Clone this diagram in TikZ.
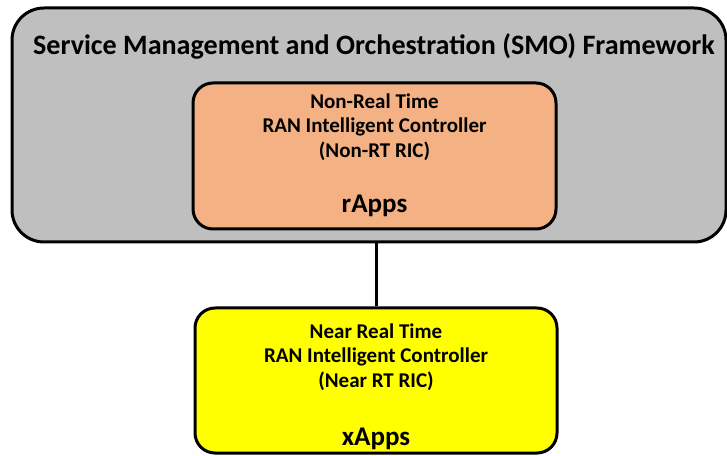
\documentclass[tikz,border=0pt]{standalone}
\usepackage{fontspec}
\setmainfont{Carlito}
\usetikzlibrary{positioning}
\definecolor{smogray}{HTML}{BFBFBF}
\definecolor{nonrtorange}{HTML}{F4B183}
\definecolor{nearrtyellow}{HTML}{FFFF00}
\begin{document}
\begin{tikzpicture}[x=1pt,y=1pt,
	box/.style={draw=black,line width=3pt,rounded corners=20pt,inner sep=0pt},
	lbl/.style={font=\bfseries\fontsize{21}{24.5}\selectfont,align=center,inner sep=0pt},
	apps/.style={font=\bfseries\fontsize{27}{28}\selectfont,inner sep=0pt,anchor=base}]
		\useasboundingbox (0,0) rectangle (727,455);
		% SMO framework
		\node [box,fill=smogray,rounded corners=32pt,minimum width=714pt,minimum height=234pt] (smo) at (369,330) {};
		\node [font=\bfseries\fontsize{28.1}{30}\selectfont,inner sep=0pt] (smotitle) at (374,409) {Service Management and Orchestration (SMO) Framework};
		% Non-RT RIC
		\node [box,fill=nonrtorange,minimum width=363pt,minimum height=146pt] (nonrt) at (374.5,299) {};
		\node [lbl] (nonrtlbl) at (374.5,328) {Non-Real Time\\RAN Intelligent Controller\\(Non-RT RIC)};
		\node [apps] (rapps) at (374.5,242) {rApps};
		% Near-RT RIC
		\node [box,fill=nearrtyellow,minimum width=362pt,minimum height=145pt] (nearrt) at (376,74.5) {};
		\node [lbl] (nearrtlbl) at (376,98) {Near Real Time\\RAN Intelligent Controller\\(Near RT RIC)};
		\node [apps] (xapps) at (376,10) {xApps};
		% link
		\draw [line width=3pt] (smo.south -| nearrt.north) -- (nearrt.north);
\end{tikzpicture}
\end{document}
